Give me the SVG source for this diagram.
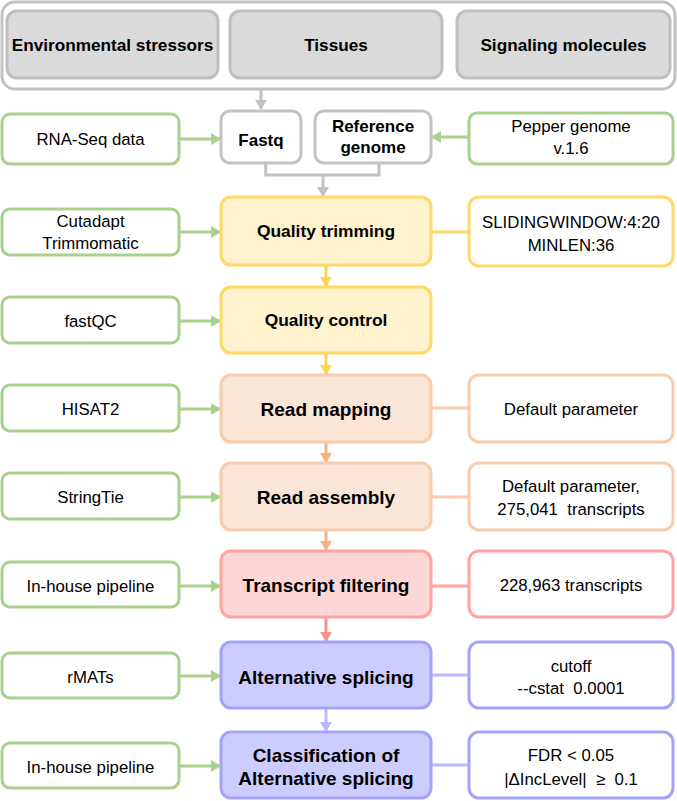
<svg xmlns="http://www.w3.org/2000/svg" width="677" height="801" viewBox="0 0 677 801">
<defs>
<style>
text{font-family:"Liberation Sans",Arial,sans-serif;fill:#000;text-anchor:middle;dominant-baseline:central}
.b{font-weight:bold}
.top{font-size:17.2px;font-weight:bold}
.t{font-size:16.8px}
.y{font-size:17.4px;font-weight:bold}
.m{font-size:19px;font-weight:bold}
.g{fill:#fff;stroke:#a9d18e;stroke-width:3}
.grey{fill:#fff;stroke:#c2c2c2;stroke-width:3}
.greyf{fill:#dadada;stroke:#bfbfbf;stroke-width:3}
.yf{fill:#fff2cc;stroke:#ffd966;stroke-width:3}
.yw{fill:#fff;stroke:#ffd966;stroke-width:3}
.of{fill:#fbe5d6;stroke:#f8cbad;stroke-width:3}
.ow{fill:#fff;stroke:#f8cbad;stroke-width:3}
.rf{fill:#ffd6d6;stroke:#ffa3a3;stroke-width:3}
.rw{fill:#fff;stroke:#ffa3a3;stroke-width:3}
.bf{fill:#ccccff;stroke:#a3a3f8;stroke-width:3}
.bw{fill:#fff;stroke:#a3a3f8;stroke-width:3}
.c{fill:none;stroke-width:3}
.pre{white-space:pre}
</style>
<marker id="aG" markerUnits="userSpaceOnUse" markerWidth="10" markerHeight="12" refX="9" refY="6" orient="auto"><path d="M0,0 L10,6 L0,12 z" fill="#a9d18e"/></marker>
<marker id="aGr" markerUnits="userSpaceOnUse" markerWidth="10" markerHeight="12" refX="9" refY="6" orient="auto"><path d="M0,0 L10,6 L0,12 z" fill="#c2c2c2"/></marker>
<marker id="aY" markerUnits="userSpaceOnUse" markerWidth="10" markerHeight="12" refX="9" refY="6" orient="auto"><path d="M0,0 L10,6 L0,12 z" fill="#ffd34d"/></marker>
<marker id="aO" markerUnits="userSpaceOnUse" markerWidth="10" markerHeight="12" refX="9" refY="6" orient="auto"><path d="M0,0 L10,6 L0,12 z" fill="#f4b183"/></marker>
<marker id="aR" markerUnits="userSpaceOnUse" markerWidth="10" markerHeight="12" refX="9" refY="6" orient="auto"><path d="M0,0 L10,6 L0,12 z" fill="#ff8f8f"/></marker>
<marker id="aB" markerUnits="userSpaceOnUse" markerWidth="10" markerHeight="12" refX="9" refY="6" orient="auto"><path d="M0,0 L10,6 L0,12 z" fill="#babaff"/></marker>
</defs>
<rect width="677" height="801" fill="#fff"/>

<g id="connectors">
<path class="c" stroke="#c2c2c2" d="M261,89 V109" marker-end="url(#aGr)"/>
<path class="c" stroke="#c2c2c2" d="M265.7,164 V175 H379 V164 M323,175 V196" marker-end="url(#aGr)"/>
<path class="c" stroke="#a9d18e" d="M180,139 H220" marker-end="url(#aG)"/>
<path class="c" stroke="#a9d18e" d="M468,137 H432" marker-end="url(#aG)"/>
<path class="c" stroke="#a9d18e" d="M180,232 H220" marker-end="url(#aG)"/>
<path class="c" stroke="#a9d18e" d="M180,321 H220" marker-end="url(#aG)"/>
<path class="c" stroke="#a9d18e" d="M180,409 H220" marker-end="url(#aG)"/>
<path class="c" stroke="#a9d18e" d="M180,497 H220" marker-end="url(#aG)"/>
<path class="c" stroke="#a9d18e" d="M180,586 H220" marker-end="url(#aG)"/>
<path class="c" stroke="#a9d18e" d="M180,676 H220" marker-end="url(#aG)"/>
<path class="c" stroke="#a9d18e" d="M180,766 H220" marker-end="url(#aG)"/>
<path class="c" stroke="#ffd966" d="M431,232 H469"/>
<path class="c" stroke="#f8cbad" d="M431,408 H469"/>
<path class="c" stroke="#f8cbad" d="M431,497 H469"/>
<path class="c" stroke="#ffa3a3" d="M431,586 H469"/>
<path class="c" stroke="#babaff" d="M431,675 H469"/>
<path class="c" stroke="#babaff" d="M431,765 H469"/>
<path class="c" stroke="#ffd34d" d="M326,266 V286" marker-end="url(#aY)"/>
<path class="c" stroke="#ffd34d" d="M326,354 V374" marker-end="url(#aY)"/>
<path class="c" stroke="#f4b183" d="M326,443 V462" marker-end="url(#aO)"/>
<path class="c" stroke="#f4b183" d="M326,531 V550" marker-end="url(#aO)"/>
<path class="c" stroke="#ff8f8f" d="M326,618 V641" marker-end="url(#aR)"/>
<path class="c" stroke="#babaff" d="M326,709 V731" marker-end="url(#aB)"/>
</g>

<g id="sources">
<rect class="grey" x="2" y="2" width="673" height="87" rx="13"/>
<g id="env"><rect class="greyf" x="7" y="11" width="211" height="67" rx="10"/><text class="top" x="112.5" y="45">Environmental stressors</text></g>
<g id="tissues"><rect class="greyf" x="230" y="11" width="212" height="67" rx="10"/><text class="top" x="336" y="45">Tissues</text></g>
<g id="signaling"><rect class="greyf" x="457" y="11" width="213" height="67" rx="10"/><text class="top" x="563.5" y="45">Signaling molecules</text></g>
</g>

<g id="fastq"><rect class="grey" x="221" y="111" width="80" height="52" rx="9"/><text class="b" style="font-size:17px" x="261" y="140">Fastq</text></g>
<g id="refgenome"><rect class="grey" x="315" y="111" width="116" height="52" rx="9"/><text class="b" style="font-size:17px" x="373" y="126.5">Reference</text><text class="b" style="font-size:17px" x="373" y="147">genome</text></g>
<g id="rnaseq"><rect class="g" x="2" y="114" width="177" height="50" rx="8"/><text class="t" x="90.5" y="139">RNA-Seq data</text></g>
<g id="pepper"><rect class="g" x="469" y="113" width="204" height="51" rx="8"/><text class="t" x="571" y="126">Pepper genome</text><text class="t" x="571" y="148">v.1.6</text></g>

<g id="cutadapt"><rect class="g" x="2" y="209" width="177" height="46" rx="8"/><text class="t" x="90.5" y="221.5">Cutadapt</text><text class="t" x="90.5" y="243">Trimmomatic</text></g>
<g id="trimming"><rect class="yf" x="221" y="197" width="210" height="68" rx="10"/><text class="y" x="326" y="231">Quality trimming</text></g>
<g id="trimparams"><rect class="yw" x="469" y="197" width="204" height="69" rx="10"/><text class="t" x="571" y="222">SLIDINGWINDOW:4:20</text><text class="t" x="571" y="245">MINLEN:36</text></g>

<g id="fastqc"><rect class="g" x="2" y="297" width="177" height="46" rx="8"/><text class="t" x="90.5" y="321">fastQC</text></g>
<g id="qc"><rect class="yf" x="221" y="287" width="210" height="66" rx="10"/><text class="y" x="326" y="320">Quality control</text></g>

<g id="hisat2"><rect class="g" x="2" y="385" width="177" height="46" rx="8"/><text class="t" x="90.5" y="409">HISAT2</text></g>
<g id="mapping"><rect class="of" x="221" y="375" width="210" height="67" rx="10"/><text class="m" x="326" y="409">Read mapping</text></g>
<g id="mapparams"><rect class="ow" x="469" y="375" width="204" height="67" rx="10"/><text class="t" x="571" y="409">Default parameter</text></g>

<g id="stringtie"><rect class="g" x="2" y="473" width="177" height="46" rx="8"/><text class="t" x="90.5" y="497">StringTie</text></g>
<g id="assembly"><rect class="of" x="221" y="463" width="210" height="67" rx="10"/><text class="m" x="326" y="497">Read assembly</text></g>
<g id="asmparams"><rect class="ow" x="469" y="463" width="204" height="67" rx="10"/><text class="t" x="571" y="486.5">Default parameter,</text><text class="t pre" x="571" y="509">275,041  transcripts</text></g>

<g id="inhouse1"><rect class="g" x="2" y="562" width="177" height="45" rx="8"/><text class="t" x="90.5" y="586.5">In-house pipeline</text></g>
<g id="filtering"><rect class="rf" x="221" y="551" width="210" height="66" rx="10"/><text class="m" x="326" y="585">Transcript filtering</text></g>
<g id="filtparams"><rect class="rw" x="469" y="551" width="204" height="66" rx="10"/><text class="t" x="571" y="585">228,963 transcripts</text></g>

<g id="rmats"><rect class="g" x="2" y="653" width="177" height="45" rx="8"/><text class="t" x="90.5" y="677">rMATs</text></g>
<g id="altsplicing"><rect class="bf" x="221" y="642" width="210" height="66" rx="10"/><text class="m" x="326" y="677">Alternative splicing</text></g>
<g id="asparams"><rect class="bw" x="469" y="642" width="204" height="66" rx="10"/><text class="t" x="571" y="666">cutoff</text><text class="t pre" x="571" y="688">--cstat  0.0001</text></g>

<g id="inhouse2"><rect class="g" x="2" y="743" width="177" height="45" rx="8"/><text class="t" x="90.5" y="767">In-house pipeline</text></g>
<g id="classification"><rect class="bf" x="221" y="732" width="210" height="66" rx="10"/><text class="m" x="326" y="755">Classification of</text><text class="m" x="326" y="778">Alternative splicing</text></g>
<g id="classparams"><rect class="bw" x="469" y="732" width="204" height="66" rx="10"/><text class="t" x="571" y="755">FDR &lt; 0.05</text><text class="t pre" x="571" y="779">|ΔIncLevel|  ≥  0.1</text></g>
</svg>
